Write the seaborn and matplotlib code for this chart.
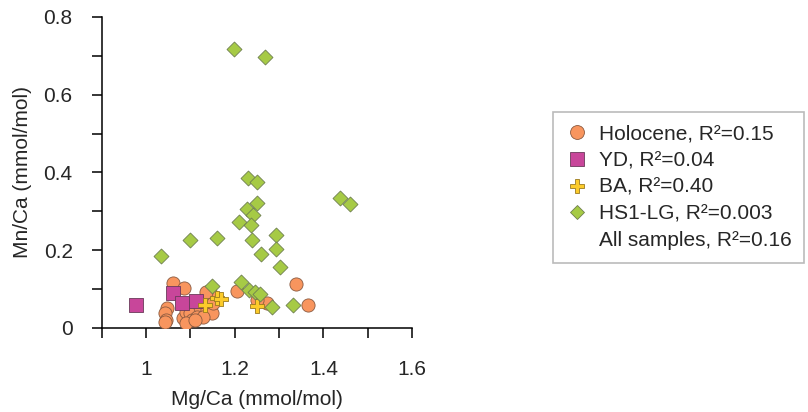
import matplotlib
matplotlib.use("Agg")
import matplotlib.pyplot as plt
import seaborn as sns
import pandas as pd
from matplotlib.lines import Line2D
from matplotlib.ticker import MultipleLocator, FuncFormatter

# ---- data ----
holo_x = [1.060, 1.085, 1.046, 1.043, 1.044, 1.084, 1.091, 1.099, 1.103, 1.125,
          1.121, 1.144, 1.138, 1.148, 1.151, 1.136, 1.204, 1.339, 1.365, 1.272,
          1.249, 1.114, 1.129, 1.091, 1.110, 1.043]
holo_y = [0.115, 0.102, 0.051, 0.038, 0.021, 0.025, 0.042, 0.038, 0.021, 0.038,
          0.055, 0.093, 0.046, 0.038, 0.063, 0.093, 0.096, 0.113, 0.059, 0.063,
          0.072, 0.029, 0.029, 0.012, 0.021, 0.016]

yd_x = [0.977, 1.060, 1.080, 1.112]
yd_y = [0.059, 0.091, 0.063, 0.070]

ba_x = [1.133, 1.159, 1.170, 1.249]
ba_y = [0.059, 0.076, 0.074, 0.057]

hs_x = [1.199, 1.268, 1.230, 1.250, 1.250, 1.228, 1.240, 1.209, 1.237, 1.294,
        1.159, 1.100, 1.239, 1.294, 1.260, 1.034, 1.302, 1.438, 1.461, 1.148,
        1.215, 1.232, 1.245, 1.258, 1.283, 1.332]
hs_y = [0.718, 0.696, 0.385, 0.376, 0.322, 0.305, 0.290, 0.273, 0.264, 0.238,
        0.232, 0.225, 0.225, 0.204, 0.190, 0.186, 0.158, 0.333, 0.318, 0.108,
        0.117, 0.098, 0.092, 0.087, 0.055, 0.059]

labels = ["Holocene, R²=0.15", "YD, R²=0.04", "BA, R²=0.40", "HS1-LG, R²=0.003"]
all_label = "All samples, R²=0.16"

x_ticks = [1.0, 1.2, 1.4, 1.6]
y_ticks = [0, 0.2, 0.4, 0.6, 0.8]

# ---- styling ----
sns.set_theme(style="ticks")
plt.rcParams["font.family"] = ["Liberation Sans", "DejaVu Sans"]

FS = 15
colors = ["#F8955E", "#C8469A", "#FCCB2A", "#A6CA45"]
markers = ["o", "s", "P", "D"]
sizes = [90, 100, 95, 58]
edge = ["#8a5a40", "#6a3a5a", "#9a7a20", "#6f7f50"]

fig = plt.figure(figsize=(8.08, 4.12), dpi=100)
ax = fig.add_axes([0.126, 0.204, 0.384, 0.755])

groups = [(holo_x, holo_y), (yd_x, yd_y), (ba_x, ba_y), (hs_x, hs_y)]
for (gx, gy), c, m, s, ec, lab in zip(groups, colors, markers, sizes, edge, labels):
    df = pd.DataFrame({"Mg/Ca": gx, "Mn/Ca": gy})
    sns.scatterplot(data=df, x="Mg/Ca", y="Mn/Ca", ax=ax, color=c, marker=m,
                    s=s, edgecolor=ec, linewidth=0.6, legend=False, zorder=3)

ax.set_xlim(0.9, 1.6)
ax.set_ylim(0, 0.8)
ax.set_xticks(x_ticks)
ax.set_yticks(y_ticks)
ax.xaxis.set_minor_locator(MultipleLocator(0.1))
ax.yaxis.set_minor_locator(MultipleLocator(0.1))
fmt = FuncFormatter(lambda v, p: f"{v:g}")
ax.xaxis.set_major_formatter(fmt)
ax.yaxis.set_major_formatter(fmt)
ax.tick_params(which="both", direction="out", length=7, width=1.1, color="black")
ax.tick_params(axis="x", which="major", labelsize=FS, pad=16)
ax.tick_params(axis="y", which="major", labelsize=FS, pad=14)
for sp in ["top", "right"]:
    ax.spines[sp].set_visible(False)
for sp in ["left", "bottom"]:
    ax.spines[sp].set_linewidth(1.1)
    ax.spines[sp].set_color("black")

ax.set_xlabel("Mg/Ca (mmol/mol)", fontsize=FS, labelpad=8)
ax.set_ylabel("Mn/Ca (mmol/mol)", fontsize=FS, labelpad=8)

handles = []
for c, m, ec, lab in zip(colors, markers, edge, labels):
    ms = 10 if m != "D" else 7.5
    handles.append(Line2D([], [], linestyle="none", marker=m, markersize=ms,
                          markerfacecolor=c, markeredgecolor=ec,
                          markeredgewidth=0.6, label=lab))
handles.append(Line2D([], [], linestyle="none", marker=None, label=all_label))

leg = fig.legend(handles=handles, loc="upper left",
                 bbox_to_anchor=(553 / 808, 1 - 112 / 412),
                 fontsize=FS, frameon=True, fancybox=False,
                 borderpad=0.6, labelspacing=0.37, handlelength=1.1,
                 handletextpad=0.5, borderaxespad=0)
leg.get_frame().set_edgecolor("#aaaaaa")
leg.get_frame().set_linewidth(1.2)

fig.savefig("out.png", dpi=100)
